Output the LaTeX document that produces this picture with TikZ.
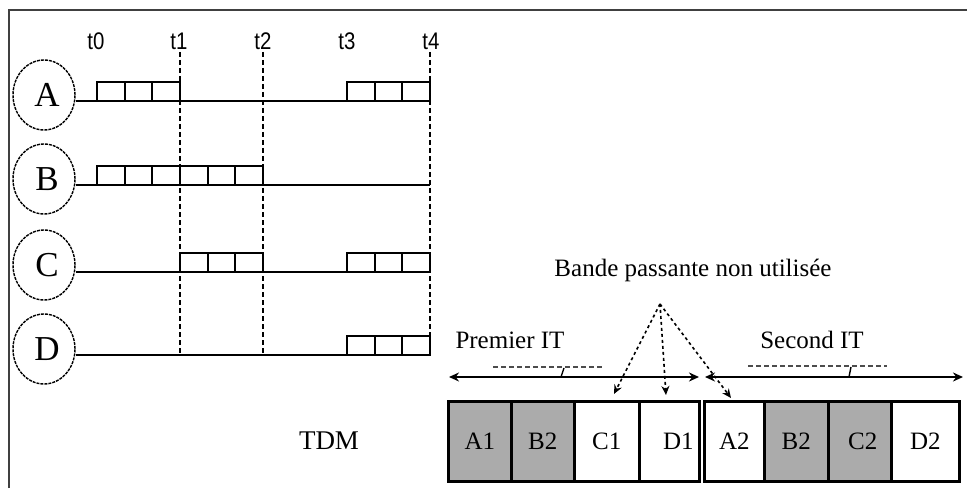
\documentclass[tikz,border=0pt]{standalone}
\usepackage{fontspec}
\setmainfont{Liberation Serif}
\newfontfamily\tfont[FakeStretch=0.85]{Liberation Sans}
\usetikzlibrary{arrows.meta,shapes.geometric}
\begin{document}
\begin{tikzpicture}[x=1pt,y=-1pt,
  frameline/.style={line width=2.4pt, black!75},
  chan/.style={ellipse, draw, line width=1.4pt, dash pattern=on 3pt off 1pt, minimum width=62pt, minimum height=70pt, inner sep=0pt, font=\fontsize{35}{35}\selectfont},
  tline/.style={line width=2.6pt},
  vdash/.style={line width=1.8pt, dash pattern=on 5pt off 3pt},
  cellbox/.style={line width=2.2pt},
  slot/.style={draw, line width=2.6pt, minimum height=80pt, inner sep=0pt, anchor=north west, font=\fontsize{25}{25}\selectfont},
  busy/.style={slot, fill=black!33},
  lbl/.style={font=\fontsize{25}{25}\selectfont},
  tlab/.style={font=\tfont\fontsize{24}{24}\selectfont},
  itarrow/.style={line width=2.2pt, {Stealth[length=10pt,width=9pt]}-{Stealth[length=10pt,width=9pt]}},
  ptr/.style={line width=1.6pt, dash pattern=on 3pt off 3pt, -{Stealth[length=9pt,width=8pt]}},
  leader/.style={line width=1.2pt, black!70, dash pattern=on 5pt off 3pt}
]
\useasboundingbox (0,0) rectangle (967,492);
\draw[frameline] (9,488) -- (9,10) -- (967,10);

% time labels
\node[tlab] (t0) at (96,41) {t0};
\node[tlab] (t1) at (179,41) {t1};
\node[tlab] (t2) at (263,41) {t2};
\node[tlab] (t3) at (347,41) {t3};
\node[tlab] (t4) at (431,41) {t4};

% channels
\node[chan] (A) at (44,95) {\raisebox{-4pt}{\hspace*{6pt}A}};
\node[chan] (B) at (44,179) {\raisebox{-4pt}{\hspace*{6pt}B}};
\node[chan] (C) at (44,265) {\raisebox{-4pt}{\hspace*{6pt}C}};
\node[chan] (D) at (44,349) {\raisebox{-4pt}{\hspace*{6pt}D}};

\coordinate (eA) at (430,101);
\coordinate (eB) at (430,185);
\coordinate (eC) at (430,272);
\coordinate (eD) at (430,355);
\draw[tline] (A.east |- eA) -- (eA);
\draw[tline] (B.east |- eB) -- (eB);
\draw[tline] (C.east |- eC) -- (eC);
\draw[tline] (D.east |- eD) -- (eD);

% dashed verticals
\coordinate (v1) at (180,52);
\coordinate (v2) at (263,52);
\coordinate (v4) at (430,52);
\draw[vdash] (v1) -- (v1 |- eD);
\draw[vdash] (v2) -- (v2 |- eD);
\draw[vdash] (v4) -- (v4 |- eD);

% cells
\def\cw{27.67}
\foreach \sx/\n/\yy in {97/3/101, 347/3/101, 97/6/185, 180/3/272, 347/3/272, 347/3/355}{
  \foreach \k in {1,...,\n}{
    \draw[cellbox] ({\sx+(\k-1)*\cw},\yy) rectangle ({\sx+\k*\cw},\yy-19);
  }
}

\node[lbl, font=\fontsize{27}{27}\selectfont] (tdm) at (329,441) {TDM};

% multiplexed frame
\node[busy, minimum width=63pt] (a1) at (447,400) {A1};
\node[busy, minimum width=63pt] (b2) at (510,400) {B2};
\node[slot, minimum width=65pt] (c1) at (573,400) {C1};
\node[slot, minimum width=60pt] (d1) at (638,400) {\hspace*{18pt}D1};
\node[slot, minimum width=60pt] (a2) at (703,400) {A2};
\node[busy, minimum width=64pt] (b2b) at (763,400) {B2};
\node[busy, minimum width=63pt] (c2) at (827,400) {\hspace*{6pt}C2};
\node[slot, minimum width=68pt] (d2) at (890,400) {D2};

% IT arrows
\coordinate (p1) at (449,377);
\coordinate (p2) at (699,377);
\coordinate (s1) at (705,377);
\coordinate (s2) at (963,377);
\draw[itarrow] (p1) -- (p2);
\draw[itarrow] (s1) -- (s2);

\node[lbl] (prem) at (510,340) {Premier IT};
\node[lbl] (sec) at (812,340) {Second IT};

\coordinate (l1a) at (493,367);
\coordinate (l1b) at (603,367);
\coordinate (l1t) at (561,377);
\draw[leader] (l1a) -- (l1b);
\draw[line width=1.4pt] (l1t) -- ++(3,-9);
\coordinate (l2a) at (748,366);
\coordinate (l2b) at (887,366);
\coordinate (l2t) at (849,377);
\draw[leader] (l2a) -- (l2b);
\draw[line width=1.4pt] (l2t) -- ++(2,-10);

% unused bandwidth
\node[lbl] (bande) at (693,270) {Bande passante non utilisée};
\coordinate (apex) at (660,304);
\coordinate (q1) at (614,394);
\coordinate (q2) at (666,395);
\coordinate (q3) at (731,398);
\draw[ptr] (apex) -- (q1);
\draw[ptr] (apex) -- (q2);
\draw[ptr] (apex) -- (q3);
\end{tikzpicture}
\end{document}
